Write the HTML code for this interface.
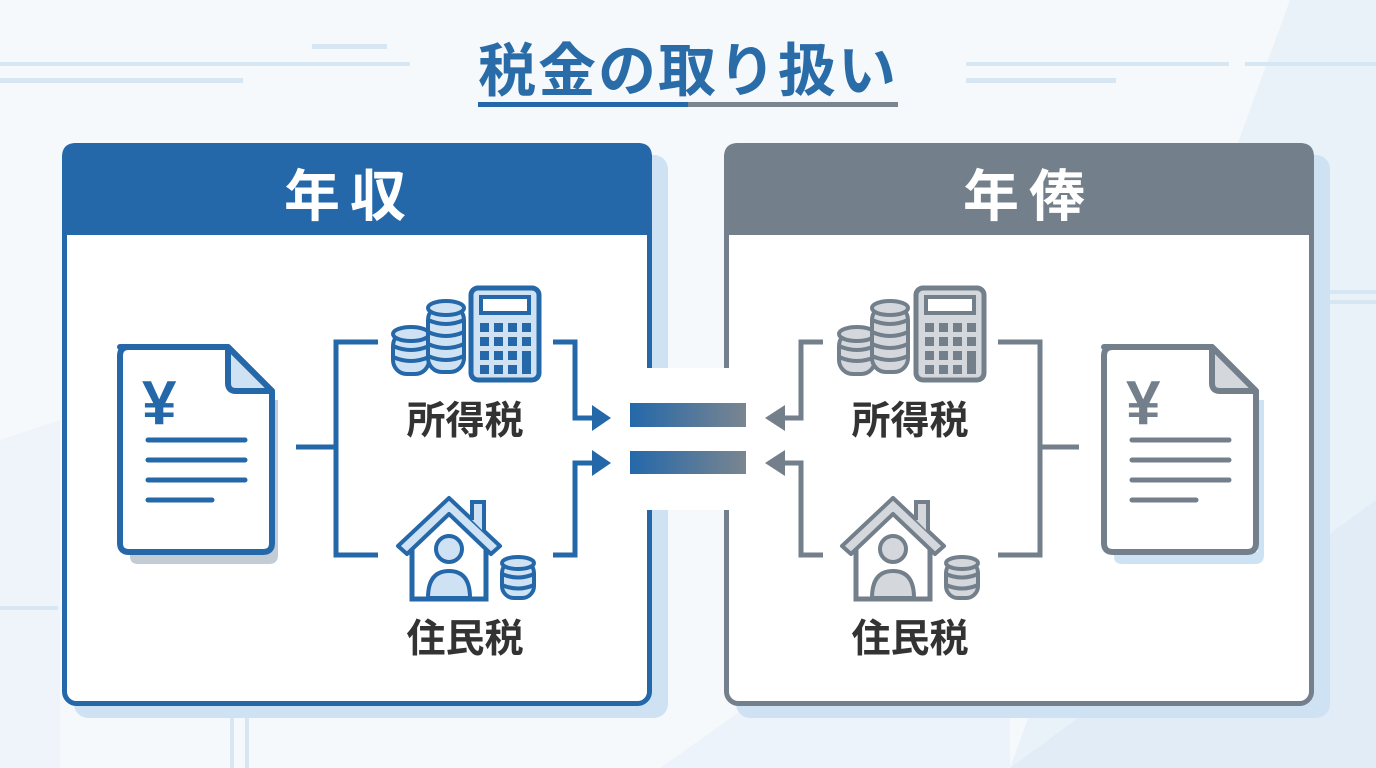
<!DOCTYPE html>
<html><head><meta charset="utf-8"><style>
html,body{margin:0;padding:0;width:1376px;height:768px;overflow:hidden;background:#f6f9fc}
svg{display:block}
text{font-family:"Liberation Sans","Noto Sans CJK JP",sans-serif;font-weight:bold}
</style></head><body>
<svg width="1376" height="768" viewBox="0 0 1376 768" xmlns="http://www.w3.org/2000/svg">
<defs>
<linearGradient id="eq" x1="0" x2="1" y1="0" y2="0"><stop offset="0" stop-color="#2468aa"/><stop offset="1" stop-color="#7a8590"/></linearGradient>
<g id="doc">
 <path d="M0 0 H108 L152 44 V196 Q152 205 143 205 H9 Q0 205 0 196 V9 Q0 0 9 0Z" fill="#fff" stroke="currentColor" stroke-width="6" stroke-linejoin="round"/>
 <path d="M108 0 V36 Q108 44 116 44 H152Z" fill="var(--lt)" stroke="currentColor" stroke-width="6" stroke-linejoin="round"/>
 <text x="22" y="77" font-size="62" fill="currentColor" font-family="Liberation Sans">¥</text>
 <g stroke="currentColor" stroke-width="5" stroke-linecap="round">
  <line x1="28" y1="93" x2="125" y2="93"/><line x1="28" y1="113" x2="125" y2="113"/><line x1="28" y1="133" x2="125" y2="133"/><line x1="28" y1="153" x2="92" y2="153"/>
 </g>
</g>
<g id="stack1" stroke="currentColor" stroke-width="4" fill="var(--lt)">
 <rect x="0" y="6" width="36" height="42" rx="14"/>
 <ellipse cx="18" cy="8" rx="18" ry="7"/>
 <path d="M0 20 Q18 28 36 20 M0 31 Q18 39 36 31" fill="none"/>
</g>
<g id="stack2" stroke="currentColor" stroke-width="4" fill="var(--lt)">
 <rect x="0" y="6" width="36" height="66" rx="14"/>
 <ellipse cx="18" cy="8" rx="18" ry="7"/>
 <path d="M0 20 Q18 28 36 20 M0 32 Q18 40 36 32 M0 44 Q18 52 36 44 M0 56 Q18 64 36 56" fill="none"/>
</g>
<g id="calc">
 <rect x="0" y="0" width="68" height="92" rx="7" fill="var(--lt)" stroke="currentColor" stroke-width="5"/>
 <rect x="10" y="9" width="48" height="16" fill="#fff" stroke="currentColor" stroke-width="4"/>
 <g fill="currentColor">
  <rect x="9" y="35" width="9" height="9"/><rect x="23" y="35" width="9" height="9"/><rect x="37" y="35" width="9" height="9"/><rect x="51" y="35" width="9" height="9"/>
  <rect x="9" y="49" width="9" height="9"/><rect x="23" y="49" width="9" height="9"/><rect x="37" y="49" width="9" height="9"/><rect x="51" y="49" width="9" height="9"/>
  <rect x="9" y="63" width="9" height="9"/><rect x="23" y="63" width="9" height="9"/><rect x="37" y="63" width="9" height="9"/><rect x="51" y="63" width="9" height="23"/>
  <rect x="9" y="77" width="9" height="9"/><rect x="23" y="77" width="9" height="9"/><rect x="37" y="77" width="9" height="9"/>
 </g>
</g>
<g id="house">
 <path d="M14 50 V105 H88 V50" fill="#fff" stroke="currentColor" stroke-width="5"/>
 <path d="M0 52 L51 4 L102 52 L93 60 L51 20 L9 60Z" fill="var(--lt)" stroke="currentColor" stroke-width="4" stroke-linejoin="round"/>
 <path d="M74 26 V8 H86 V38" fill="var(--lt)" stroke="currentColor" stroke-width="4"/>
 <circle cx="51" cy="55" r="13" fill="var(--lt)" stroke="currentColor" stroke-width="4"/>
 <path d="M30 104 Q30 77 51 77 Q72 77 72 104Z" fill="var(--lt)" stroke="currentColor" stroke-width="4"/>
</g>
<g id="stack3" stroke="currentColor" stroke-width="4" fill="var(--lt)">
 <rect x="0" y="5" width="32" height="37" rx="12"/>
 <ellipse cx="16" cy="7" rx="16" ry="6"/>
 <path d="M0 18 Q16 25 32 18 M0 29 Q16 36 32 29" fill="none"/>
</g>
</defs>

<!-- background -->
<polygon points="1290,0 1376,0 1376,768 1010,768" fill="#e9f1f9"/>
<polygon points="1010,768 1376,500 1376,768" fill="#e1ecf7"/>
<polygon points="0,440 60,420 60,768 0,768" fill="#eef4fa"/>
<polygon points="660,768 1010,520 1010,768" fill="#edf3fa"/>
<g fill="#d6e6f2">
 <rect x="312" y="44" width="75" height="5"/><rect x="0" y="62" width="410" height="4"/><rect x="0" y="78" width="243" height="5"/>
 <rect x="966" y="62" width="263" height="4"/><rect x="1245" y="62" width="131" height="4"/><rect x="966" y="78" width="150" height="5"/>
 <rect x="1330" y="290" width="46" height="4"/><rect x="1330" y="300" width="46" height="4"/>
 <rect x="0" y="606" width="58" height="4"/><rect x="230" y="718" width="4" height="50"/><rect x="245" y="718" width="4" height="50"/>
</g>

<!-- title -->
<text x="688" y="91" font-size="58" fill="#2a6ca8" text-anchor="middle" letter-spacing="2">税金の取り扱い</text>
<rect x="478" y="102" width="210" height="5" fill="#2468aa"/>
<rect x="688" y="102" width="210" height="5" fill="#7a8590"/>

<!-- left panel -->
<rect x="74" y="155" width="594" height="563" rx="14" fill="#cfe2f3"/>
<rect x="64.5" y="145.5" width="585" height="558" rx="12" fill="#fff" stroke="#2468aa" stroke-width="5"/>
<path d="M62 235 V157 Q62 143 76 143 H638 Q652 143 652 157 V235Z" fill="#2468aa"/>
<text x="350" y="216" font-size="56" fill="#fff" text-anchor="middle" letter-spacing="10">年収</text>

<!-- right panel -->
<rect x="736" y="155" width="594" height="563" rx="14" fill="#cfe2f3"/>
<rect x="726.5" y="145.5" width="585" height="558" rx="12" fill="#fff" stroke="#737f8a" stroke-width="5"/>
<path d="M724 235 V157 Q724 143 738 143 H1300 Q1314 143 1314 157 V235Z" fill="#737f8a"/>
<text x="1029" y="216" font-size="56" fill="#fff" text-anchor="middle" letter-spacing="10">年俸</text>

<!-- center gap -->
<rect x="640" y="368" width="100" height="142" fill="#fff"/>
<rect x="630" y="403" width="116" height="24" fill="url(#eq)"/>
<rect x="630" y="451" width="116" height="23" fill="url(#eq)"/>

<!-- left content -->
<g style="color:#2468aa;--lt:#cfe2f3">
 <path d="M278 400 V555 Q278 564 269 564 H138 Q130 564 130 556 V552 H272 V400Z" fill="#c3cbd5"/>
 <use href="#doc" x="120" y="347"/>
 <use href="#stack1" x="393" y="326"/>
 <use href="#stack2" x="428" y="300"/>
 <use href="#calc" x="471" y="288"/>
 <use href="#house" x="398" y="494"/>
 <use href="#stack3" x="502" y="556"/>
 <g stroke="#2468aa" stroke-width="5" fill="none">
  <path d="M296 447 H336 M378 342 H336 V555 H378"/>
  <path d="M553 342 H575 V418 H594 M553 555 H575 V463 H594"/>
 </g>
 <path d="M592 405 L611 418 L592 431Z M592 450 L611 463 L592 476Z" fill="#2468aa"/>
</g>
<text x="465" y="434" font-size="39" fill="#333" text-anchor="middle">所得税</text>
<text x="465" y="652" font-size="39" fill="#333" text-anchor="middle">住民税</text>

<!-- right content -->
<g style="color:#737f8a;--lt:#d4d8dd">
 <path d="M1264 400 V555 Q1264 564 1255 564 H1122 Q1114 564 1114 556 V552 H1258 V400Z" fill="#cde3f3"/>
 <use href="#doc" x="1104" y="347"/>
 <use href="#stack1" x="839" y="326"/>
 <use href="#stack2" x="872" y="300"/>
 <use href="#calc" x="916" y="288"/>
 <use href="#house" x="842" y="494"/>
 <use href="#stack3" x="946" y="556"/>
 <g stroke="#737f8a" stroke-width="5" fill="none">
  <path d="M1079 447 H1040 M998 342 H1040 V555 H998"/>
  <path d="M823 342 H801 V418 H782 M823 555 H801 V463 H782"/>
 </g>
 <path d="M785 405 L765 418 L785 431Z M785 450 L765 463 L785 476Z" fill="#737f8a"/>
</g>
<text x="910" y="434" font-size="39" fill="#333" text-anchor="middle">所得税</text>
<text x="910" y="652" font-size="39" fill="#333" text-anchor="middle">住民税</text>
</svg>
</body></html>
